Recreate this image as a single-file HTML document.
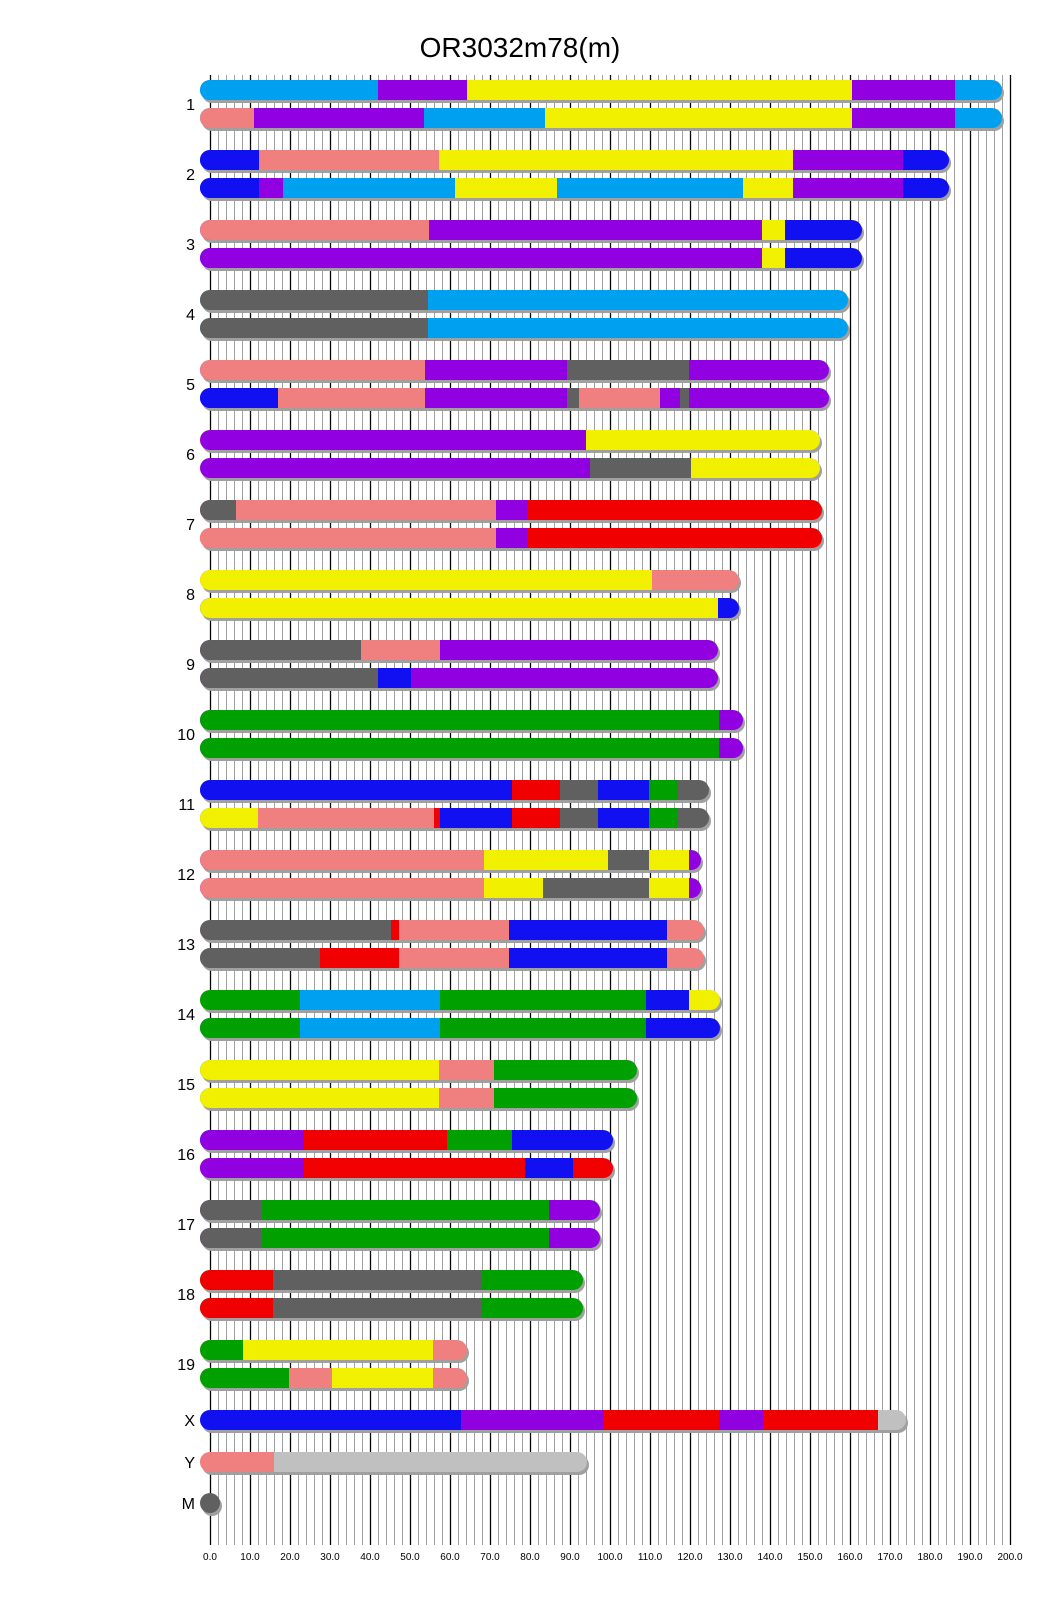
<!DOCTYPE html>
<html><head><meta charset="utf-8"><style>
html,body{margin:0;padding:0;background:#fff;}
svg{display:block;font-family:"Liberation Sans",sans-serif;}
</style></head><body>
<svg width="1040" height="1616" viewBox="0 0 1040 1616" xmlns="http://www.w3.org/2000/svg">
<defs>
<pattern id="gp" x="210" y="0" width="8" height="10" patternUnits="userSpaceOnUse"><rect x="0" y="0" width="1" height="10" fill="#a0a0a0"/></pattern>
</defs>
<text x="520" y="57" font-size="28" text-anchor="middle">OR3032m78(m)</text>
<rect x="210" y="75" width="801" height="1470" fill="url(#gp)"/>
<g stroke="#000" stroke-width="1.3">
<line x1="210.5" y1="75" x2="210.5" y2="1545"/><line x1="250.5" y1="75" x2="250.5" y2="1545"/><line x1="290.5" y1="75" x2="290.5" y2="1545"/><line x1="330.5" y1="75" x2="330.5" y2="1545"/><line x1="370.5" y1="75" x2="370.5" y2="1545"/><line x1="410.5" y1="75" x2="410.5" y2="1545"/><line x1="450.5" y1="75" x2="450.5" y2="1545"/><line x1="490.5" y1="75" x2="490.5" y2="1545"/><line x1="530.5" y1="75" x2="530.5" y2="1545"/><line x1="570.5" y1="75" x2="570.5" y2="1545"/><line x1="610.5" y1="75" x2="610.5" y2="1545"/><line x1="650.5" y1="75" x2="650.5" y2="1545"/><line x1="690.5" y1="75" x2="690.5" y2="1545"/><line x1="730.5" y1="75" x2="730.5" y2="1545"/><line x1="770.5" y1="75" x2="770.5" y2="1545"/><line x1="810.5" y1="75" x2="810.5" y2="1545"/><line x1="850.5" y1="75" x2="850.5" y2="1545"/><line x1="890.5" y1="75" x2="890.5" y2="1545"/><line x1="930.5" y1="75" x2="930.5" y2="1545"/><line x1="970.5" y1="75" x2="970.5" y2="1545"/><line x1="1010.5" y1="75" x2="1010.5" y2="1545"/>
</g>
<g font-size="10" text-anchor="middle">
<text x="210" y="1560">0.0</text><text x="250" y="1560">10.0</text><text x="290" y="1560">20.0</text><text x="330" y="1560">30.0</text><text x="370" y="1560">40.0</text><text x="410" y="1560">50.0</text><text x="450" y="1560">60.0</text><text x="490" y="1560">70.0</text><text x="530" y="1560">80.0</text><text x="570" y="1560">90.0</text><text x="610" y="1560">100.0</text><text x="650" y="1560">110.0</text><text x="690" y="1560">120.0</text><text x="730" y="1560">130.0</text><text x="770" y="1560">140.0</text><text x="810" y="1560">150.0</text><text x="850" y="1560">160.0</text><text x="890" y="1560">170.0</text><text x="930" y="1560">180.0</text><text x="970" y="1560">190.0</text><text x="1010" y="1560">200.0</text>
</g>
<g font-size="16" text-anchor="end">
<text x="195" y="110">1</text><text x="195" y="180">2</text><text x="195" y="250">3</text><text x="195" y="320">4</text><text x="195" y="390">5</text><text x="195" y="460">6</text><text x="195" y="530">7</text><text x="195" y="600">8</text><text x="195" y="670">9</text><text x="195" y="740">10</text><text x="195" y="810">11</text><text x="195" y="880">12</text><text x="195" y="950">13</text><text x="195" y="1020">14</text><text x="195" y="1090">15</text><text x="195" y="1160">16</text><text x="195" y="1230">17</text><text x="195" y="1300">18</text><text x="195" y="1370">19</text><text x="195" y="1426">X</text><text x="195" y="1468">Y</text><text x="195" y="1509">M</text>
</g>

<!-- chr1 -->
<g transform="translate(0,80)"><rect x="202" y="3" width="802" height="20" rx="10" fill="#a0a0a0"/><rect x="200" y="0" width="802" height="20" rx="10" fill="#00a0f0"/><rect x="200" width="178" height="20" rx="10" fill="#00a0f0"/><rect x="215" width="163" height="20" fill="#00a0f0"/><rect x="378" width="89" height="20" fill="#9000e0"/><rect x="467" width="385" height="20" fill="#f0f000"/><rect x="852" width="103" height="20" fill="#9000e0"/></g>
<g transform="translate(0,108)"><rect x="202" y="3" width="802" height="20" rx="10" fill="#a0a0a0"/><rect x="200" y="0" width="802" height="20" rx="10" fill="#00a0f0"/><rect x="200" width="54" height="20" rx="10" fill="#f08080"/><rect x="215" width="39" height="20" fill="#f08080"/><rect x="254" width="170" height="20" fill="#9000e0"/><rect x="424" width="121" height="20" fill="#00a0f0"/><rect x="545" width="307" height="20" fill="#f0f000"/><rect x="852" width="103" height="20" fill="#9000e0"/></g>
<!-- chr2 -->
<g transform="translate(0,150)"><rect x="202" y="3" width="749" height="20" rx="10" fill="#a0a0a0"/><rect x="200" y="0" width="749" height="20" rx="10" fill="#1010f0"/><rect x="200" width="59" height="20" rx="10" fill="#1010f0"/><rect x="259" width="180" height="20" fill="#f08080"/><rect x="439" width="354" height="20" fill="#f0f000"/><rect x="793" width="110" height="20" fill="#9000e0"/></g>
<g transform="translate(0,178)"><rect x="202" y="3" width="749" height="20" rx="10" fill="#a0a0a0"/><rect x="200" y="0" width="749" height="20" rx="10" fill="#1010f0"/><rect x="200" width="59" height="20" rx="10" fill="#1010f0"/><rect x="259" width="24" height="20" fill="#9000e0"/><rect x="283" width="172" height="20" fill="#00a0f0"/><rect x="455" width="102" height="20" fill="#f0f000"/><rect x="557" width="186" height="20" fill="#00a0f0"/><rect x="743" width="50" height="20" fill="#f0f000"/><rect x="793" width="110" height="20" fill="#9000e0"/></g>
<!-- chr3 -->
<g transform="translate(0,220)"><rect x="202" y="3" width="662" height="20" rx="10" fill="#a0a0a0"/><rect x="200" y="0" width="662" height="20" rx="10" fill="#1010f0"/><rect x="200" width="229" height="20" rx="10" fill="#f08080"/><rect x="215" width="214" height="20" fill="#f08080"/><rect x="429" width="333" height="20" fill="#9000e0"/><rect x="762" width="23" height="20" fill="#f0f000"/></g>
<g transform="translate(0,248)"><rect x="202" y="3" width="662" height="20" rx="10" fill="#a0a0a0"/><rect x="200" y="0" width="662" height="20" rx="10" fill="#1010f0"/><rect x="200" width="562" height="20" rx="10" fill="#9000e0"/><rect x="215" width="547" height="20" fill="#9000e0"/><rect x="762" width="23" height="20" fill="#f0f000"/></g>
<!-- chr4 -->
<g transform="translate(0,290)"><rect x="202" y="3" width="648" height="20" rx="10" fill="#a0a0a0"/><rect x="200" y="0" width="648" height="20" rx="10" fill="#00a0f0"/><rect x="200" width="228" height="20" rx="10" fill="#606060"/><rect x="215" width="213" height="20" fill="#606060"/></g>
<g transform="translate(0,318)"><rect x="202" y="3" width="648" height="20" rx="10" fill="#a0a0a0"/><rect x="200" y="0" width="648" height="20" rx="10" fill="#00a0f0"/><rect x="200" width="228" height="20" rx="10" fill="#606060"/><rect x="215" width="213" height="20" fill="#606060"/></g>
<!-- chr5 -->
<g transform="translate(0,360)"><rect x="202" y="3" width="629" height="20" rx="10" fill="#a0a0a0"/><rect x="200" y="0" width="629" height="20" rx="10" fill="#9000e0"/><rect x="200" width="225" height="20" rx="10" fill="#f08080"/><rect x="215" width="210" height="20" fill="#f08080"/><rect x="425" width="142" height="20" fill="#9000e0"/><rect x="567" width="122" height="20" fill="#606060"/></g>
<g transform="translate(0,388)"><rect x="202" y="3" width="629" height="20" rx="10" fill="#a0a0a0"/><rect x="200" y="0" width="629" height="20" rx="10" fill="#9000e0"/><rect x="200" width="78" height="20" rx="10" fill="#1010f0"/><rect x="215" width="63" height="20" fill="#1010f0"/><rect x="278" width="147" height="20" fill="#f08080"/><rect x="425" width="142" height="20" fill="#9000e0"/><rect x="567" width="12" height="20" fill="#606060"/><rect x="579" width="81" height="20" fill="#f08080"/><rect x="660" width="20" height="20" fill="#9000e0"/><rect x="680" width="9" height="20" fill="#606060"/></g>
<!-- chr6 -->
<g transform="translate(0,430)"><rect x="202" y="3" width="620" height="20" rx="10" fill="#a0a0a0"/><rect x="200" y="0" width="620" height="20" rx="10" fill="#f0f000"/><rect x="200" width="386" height="20" rx="10" fill="#9000e0"/><rect x="215" width="371" height="20" fill="#9000e0"/></g>
<g transform="translate(0,458)"><rect x="202" y="3" width="620" height="20" rx="10" fill="#a0a0a0"/><rect x="200" y="0" width="620" height="20" rx="10" fill="#f0f000"/><rect x="200" width="390" height="20" rx="10" fill="#9000e0"/><rect x="215" width="375" height="20" fill="#9000e0"/><rect x="590" width="101" height="20" fill="#606060"/></g>
<!-- chr7 -->
<g transform="translate(0,500)"><rect x="202" y="3" width="622" height="20" rx="10" fill="#a0a0a0"/><rect x="200" y="0" width="622" height="20" rx="10" fill="#f00000"/><rect x="200" width="36" height="20" rx="10" fill="#606060"/><rect x="215" width="21" height="20" fill="#606060"/><rect x="236" width="260" height="20" fill="#f08080"/><rect x="496" width="31" height="20" fill="#9000e0"/></g>
<g transform="translate(0,528)"><rect x="202" y="3" width="622" height="20" rx="10" fill="#a0a0a0"/><rect x="200" y="0" width="622" height="20" rx="10" fill="#f00000"/><rect x="200" width="296" height="20" rx="10" fill="#f08080"/><rect x="215" width="281" height="20" fill="#f08080"/><rect x="496" width="31" height="20" fill="#9000e0"/></g>
<!-- chr8 -->
<g transform="translate(0,570)"><rect x="202" y="3" width="539" height="20" rx="10" fill="#a0a0a0"/><rect x="200" y="0" width="539" height="20" rx="10" fill="#f08080"/><rect x="200" width="452" height="20" rx="10" fill="#f0f000"/><rect x="215" width="437" height="20" fill="#f0f000"/></g>
<g transform="translate(0,598)"><rect x="202" y="3" width="539" height="20" rx="10" fill="#a0a0a0"/><rect x="200" y="0" width="539" height="20" rx="10" fill="#1010f0"/><rect x="200" width="518" height="20" rx="10" fill="#f0f000"/><rect x="215" width="503" height="20" fill="#f0f000"/></g>
<!-- chr9 -->
<g transform="translate(0,640)"><rect x="202" y="3" width="518" height="20" rx="10" fill="#a0a0a0"/><rect x="200" y="0" width="518" height="20" rx="10" fill="#9000e0"/><rect x="200" width="161" height="20" rx="10" fill="#606060"/><rect x="215" width="146" height="20" fill="#606060"/><rect x="361" width="79" height="20" fill="#f08080"/></g>
<g transform="translate(0,668)"><rect x="202" y="3" width="518" height="20" rx="10" fill="#a0a0a0"/><rect x="200" y="0" width="518" height="20" rx="10" fill="#9000e0"/><rect x="200" width="178" height="20" rx="10" fill="#606060"/><rect x="215" width="163" height="20" fill="#606060"/><rect x="378" width="33" height="20" fill="#1010f0"/></g>
<!-- chr10 -->
<g transform="translate(0,710)"><rect x="202" y="3" width="543" height="20" rx="10" fill="#a0a0a0"/><rect x="200" y="0" width="543" height="20" rx="10" fill="#9000e0"/><rect x="200" width="519" height="20" rx="10" fill="#00a000"/><rect x="215" width="504" height="20" fill="#00a000"/></g>
<g transform="translate(0,738)"><rect x="202" y="3" width="543" height="20" rx="10" fill="#a0a0a0"/><rect x="200" y="0" width="543" height="20" rx="10" fill="#9000e0"/><rect x="200" width="519" height="20" rx="10" fill="#00a000"/><rect x="215" width="504" height="20" fill="#00a000"/></g>
<!-- chr11 -->
<g transform="translate(0,780)"><rect x="202" y="3" width="509" height="20" rx="10" fill="#a0a0a0"/><rect x="200" y="0" width="509" height="20" rx="10" fill="#606060"/><rect x="200" width="312" height="20" rx="10" fill="#1010f0"/><rect x="215" width="297" height="20" fill="#1010f0"/><rect x="512" width="48" height="20" fill="#f00000"/><rect x="560" width="38" height="20" fill="#606060"/><rect x="598" width="51" height="20" fill="#1010f0"/><rect x="649" width="29" height="20" fill="#00a000"/></g>
<g transform="translate(0,808)"><rect x="202" y="3" width="509" height="20" rx="10" fill="#a0a0a0"/><rect x="200" y="0" width="509" height="20" rx="10" fill="#606060"/><rect x="200" width="58" height="20" rx="10" fill="#f0f000"/><rect x="215" width="43" height="20" fill="#f0f000"/><rect x="258" width="176" height="20" fill="#f08080"/><rect x="434" width="6" height="20" fill="#f00000"/><rect x="440" width="72" height="20" fill="#1010f0"/><rect x="512" width="48" height="20" fill="#f00000"/><rect x="560" width="38" height="20" fill="#606060"/><rect x="598" width="51" height="20" fill="#1010f0"/><rect x="649" width="29" height="20" fill="#00a000"/></g>
<!-- chr12 -->
<g transform="translate(0,850)"><rect x="202" y="3" width="501" height="20" rx="10" fill="#a0a0a0"/><rect x="200" y="0" width="501" height="20" rx="10" fill="#9000e0"/><rect x="200" width="284" height="20" rx="10" fill="#f08080"/><rect x="215" width="269" height="20" fill="#f08080"/><rect x="484" width="124" height="20" fill="#f0f000"/><rect x="608" width="41" height="20" fill="#606060"/><rect x="649" width="40" height="20" fill="#f0f000"/></g>
<g transform="translate(0,878)"><rect x="202" y="3" width="501" height="20" rx="10" fill="#a0a0a0"/><rect x="200" y="0" width="501" height="20" rx="10" fill="#9000e0"/><rect x="200" width="284" height="20" rx="10" fill="#f08080"/><rect x="215" width="269" height="20" fill="#f08080"/><rect x="484" width="59" height="20" fill="#f0f000"/><rect x="543" width="106" height="20" fill="#606060"/><rect x="649" width="40" height="20" fill="#f0f000"/></g>
<!-- chr13 -->
<g transform="translate(0,920)"><rect x="202" y="3" width="504" height="20" rx="10" fill="#a0a0a0"/><rect x="200" y="0" width="504" height="20" rx="10" fill="#f08080"/><rect x="200" width="191" height="20" rx="10" fill="#606060"/><rect x="215" width="176" height="20" fill="#606060"/><rect x="391" width="8" height="20" fill="#f00000"/><rect x="399" width="110" height="20" fill="#f08080"/><rect x="509" width="158" height="20" fill="#1010f0"/></g>
<g transform="translate(0,948)"><rect x="202" y="3" width="504" height="20" rx="10" fill="#a0a0a0"/><rect x="200" y="0" width="504" height="20" rx="10" fill="#f08080"/><rect x="200" width="120" height="20" rx="10" fill="#606060"/><rect x="215" width="105" height="20" fill="#606060"/><rect x="320" width="79" height="20" fill="#f00000"/><rect x="399" width="110" height="20" fill="#f08080"/><rect x="509" width="158" height="20" fill="#1010f0"/></g>
<!-- chr14 -->
<g transform="translate(0,990)"><rect x="202" y="3" width="520" height="20" rx="10" fill="#a0a0a0"/><rect x="200" y="0" width="520" height="20" rx="10" fill="#f0f000"/><rect x="200" width="100" height="20" rx="10" fill="#00a000"/><rect x="215" width="85" height="20" fill="#00a000"/><rect x="300" width="140" height="20" fill="#00a0f0"/><rect x="440" width="206" height="20" fill="#00a000"/><rect x="646" width="43" height="20" fill="#1010f0"/></g>
<g transform="translate(0,1018)"><rect x="202" y="3" width="520" height="20" rx="10" fill="#a0a0a0"/><rect x="200" y="0" width="520" height="20" rx="10" fill="#1010f0"/><rect x="200" width="100" height="20" rx="10" fill="#00a000"/><rect x="215" width="85" height="20" fill="#00a000"/><rect x="300" width="140" height="20" fill="#00a0f0"/><rect x="440" width="206" height="20" fill="#00a000"/></g>
<!-- chr15 -->
<g transform="translate(0,1060)"><rect x="202" y="3" width="437" height="20" rx="10" fill="#a0a0a0"/><rect x="200" y="0" width="437" height="20" rx="10" fill="#00a000"/><rect x="200" width="239" height="20" rx="10" fill="#f0f000"/><rect x="215" width="224" height="20" fill="#f0f000"/><rect x="439" width="55" height="20" fill="#f08080"/></g>
<g transform="translate(0,1088)"><rect x="202" y="3" width="437" height="20" rx="10" fill="#a0a0a0"/><rect x="200" y="0" width="437" height="20" rx="10" fill="#00a000"/><rect x="200" width="239" height="20" rx="10" fill="#f0f000"/><rect x="215" width="224" height="20" fill="#f0f000"/><rect x="439" width="55" height="20" fill="#f08080"/></g>
<!-- chr16 -->
<g transform="translate(0,1130)"><rect x="202" y="3" width="413" height="20" rx="10" fill="#a0a0a0"/><rect x="200" y="0" width="413" height="20" rx="10" fill="#1010f0"/><rect x="200" width="104" height="20" rx="10" fill="#9000e0"/><rect x="215" width="89" height="20" fill="#9000e0"/><rect x="304" width="143" height="20" fill="#f00000"/><rect x="447" width="65" height="20" fill="#00a000"/></g>
<g transform="translate(0,1158)"><rect x="202" y="3" width="413" height="20" rx="10" fill="#a0a0a0"/><rect x="200" y="0" width="413" height="20" rx="10" fill="#f00000"/><rect x="200" width="104" height="20" rx="10" fill="#9000e0"/><rect x="215" width="89" height="20" fill="#9000e0"/><rect x="304" width="221" height="20" fill="#f00000"/><rect x="525" width="48" height="20" fill="#1010f0"/></g>
<!-- chr17 -->
<g transform="translate(0,1200)"><rect x="202" y="3" width="400" height="20" rx="10" fill="#a0a0a0"/><rect x="200" y="0" width="400" height="20" rx="10" fill="#9000e0"/><rect x="200" width="62" height="20" rx="10" fill="#606060"/><rect x="215" width="47" height="20" fill="#606060"/><rect x="262" width="287" height="20" fill="#00a000"/></g>
<g transform="translate(0,1228)"><rect x="202" y="3" width="400" height="20" rx="10" fill="#a0a0a0"/><rect x="200" y="0" width="400" height="20" rx="10" fill="#9000e0"/><rect x="200" width="62" height="20" rx="10" fill="#606060"/><rect x="215" width="47" height="20" fill="#606060"/><rect x="262" width="287" height="20" fill="#00a000"/></g>
<!-- chr18 -->
<g transform="translate(0,1270)"><rect x="202" y="3" width="383" height="20" rx="10" fill="#a0a0a0"/><rect x="200" y="0" width="383" height="20" rx="10" fill="#00a000"/><rect x="200" width="73" height="20" rx="10" fill="#f00000"/><rect x="215" width="58" height="20" fill="#f00000"/><rect x="273" width="208" height="20" fill="#606060"/></g>
<g transform="translate(0,1298)"><rect x="202" y="3" width="383" height="20" rx="10" fill="#a0a0a0"/><rect x="200" y="0" width="383" height="20" rx="10" fill="#00a000"/><rect x="200" width="73" height="20" rx="10" fill="#f00000"/><rect x="215" width="58" height="20" fill="#f00000"/><rect x="273" width="208" height="20" fill="#606060"/></g>
<!-- chr19 -->
<g transform="translate(0,1340)"><rect x="202" y="3" width="267" height="20" rx="10" fill="#a0a0a0"/><rect x="200" y="0" width="267" height="20" rx="10" fill="#f08080"/><rect x="200" width="43" height="20" rx="10" fill="#00a000"/><rect x="215" width="28" height="20" fill="#00a000"/><rect x="243" width="190" height="20" fill="#f0f000"/></g>
<g transform="translate(0,1368)"><rect x="202" y="3" width="267" height="20" rx="10" fill="#a0a0a0"/><rect x="200" y="0" width="267" height="20" rx="10" fill="#f08080"/><rect x="200" width="89" height="20" rx="10" fill="#00a000"/><rect x="215" width="74" height="20" fill="#00a000"/><rect x="289" width="43" height="20" fill="#f08080"/><rect x="332" width="101" height="20" fill="#f0f000"/></g>
<!-- X -->
<g transform="translate(0,1410)"><rect x="202" y="3" width="706" height="20" rx="10" fill="#a0a0a0"/><rect x="200" y="0" width="706" height="20" rx="10" fill="#c0c0c0"/><rect x="200" width="261" height="20" rx="10" fill="#1010f0"/><rect x="215" width="246" height="20" fill="#1010f0"/><rect x="461" width="143" height="20" fill="#9000e0"/><rect x="604" width="115" height="20" fill="#f00000"/><rect x="719" width="44" height="20" fill="#9000e0"/><rect x="763" width="115" height="20" fill="#f00000"/></g>
<!-- Y -->
<g transform="translate(0,1452)"><rect x="202" y="3" width="387" height="20" rx="10" fill="#a0a0a0"/><rect x="200" y="0" width="387" height="20" rx="10" fill="#c0c0c0"/><rect x="200" width="74" height="20" rx="10" fill="#f08080"/><rect x="215" width="59" height="20" fill="#f08080"/></g>
<!-- M -->
<circle cx="212" cy="1506" r="10" fill="#a0a0a0"/>
<circle cx="210" cy="1503" r="10" fill="#606060"/>
</svg>
</body></html>
